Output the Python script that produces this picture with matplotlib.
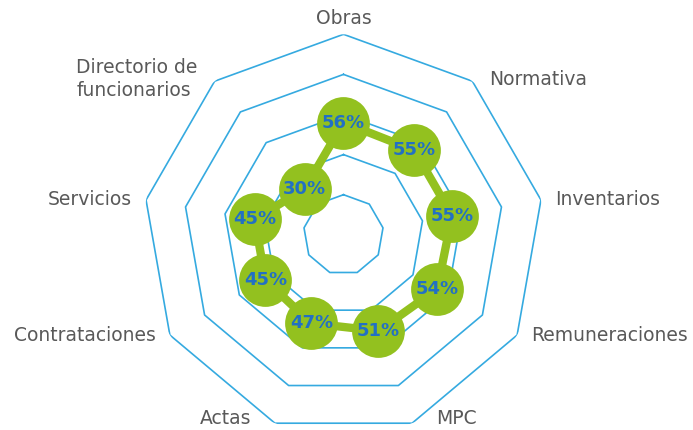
import numpy as np
import matplotlib
matplotlib.use("Agg")
import matplotlib.pyplot as plt

# datos del grafico (sentido horario desde arriba)
categorias = [
    "Obras",
    "Normativa",
    "Inventarios",
    "Remuneraciones",
    "MPC",
    "Actas",
    "Contrataciones",
    "Servicios",
    "Directorio de\nfuncionarios",
]
valores = [56, 55, 55, 54, 51, 47, 45, 45, 30]
anillos = [20, 40, 60, 80, 100]

VERDE = "#93c11f"
AZUL_TXT = "#2270c4"
AZUL_GRID = "#35aae0"
GRIS = "#595959"


def configurar_ejes():
    fig = plt.figure(figsize=(6.93, 4.30), dpi=100)
    # centro del radar en pixeles (343.5, 234.8), radio 200.5
    cx, cy, rad = 343.5, 430 - 234.8, 200.5
    ax = fig.add_axes(
        [(cx - rad) / 693, (cy - rad) / 430, 2 * rad / 693, 2 * rad / 430],
        projection="polar",
    )
    ax.set_theta_offset(np.pi / 2)
    ax.set_theta_direction(-1)
    ax.set_ylim(0, 100)
    ax.grid(False)
    ax.spines["polar"].set_visible(False)
    ax.set_xticks([])
    ax.set_yticks([])
    ax.patch.set_alpha(0)
    return fig, ax


def dibujar_grilla(ax, angulos):
    cerrado = np.append(angulos, angulos[0])
    for r in anillos:
        ax.plot(cerrado, [r] * len(cerrado), color=AZUL_GRID, linewidth=1.2,
                zorder=1)


def dibujar_serie(ax, angulos):
    cerrado = np.append(angulos, angulos[0])
    vals = valores + valores[:1]
    ax.plot(cerrado, vals, color=VERDE, linewidth=6, zorder=2,
            solid_joinstyle="round")
    ax.plot(angulos, valores, "o", color=VERDE, markersize=38,
            markeredgewidth=0, zorder=3)
    for ang, v in zip(angulos, valores):
        ax.text(ang, v, f"{v}%", ha="center", va="center", color=AZUL_TXT,
                fontsize=13, fontweight="bold", zorder=4)


def etiquetar(ax, angulos):
    px = 0.72  # puntos por pixel a 100 dpi
    for ang, nombre in zip(angulos, categorias):
        t = np.pi / 2 - ang
        c, s = np.cos(t), np.sin(t)
        if abs(c) < 0.2:
            ha, dx, dy = "center", 0, 16
        else:
            ha = "left" if c > 0 else "right"
            dx, dy = 14 * np.sign(c), 0
            if s < -0.9:
                dx, dy = 24 * np.sign(c), 5
            elif s > 0.6:
                dx, dy = 17 * np.sign(c), 2
        ax.annotate(nombre, xy=(ang, 100), xytext=(dx * px, dy * px),
                    textcoords="offset points", ha=ha, va="center",
                    multialignment="left", linespacing=1.3,
                    fontsize=13.5, color=GRIS, annotation_clip=False)


fig, ax = configurar_ejes()
angulos = np.linspace(0, 2 * np.pi, len(categorias), endpoint=False)
dibujar_grilla(ax, angulos)
dibujar_serie(ax, angulos)
etiquetar(ax, angulos)
fig.savefig("out.png", dpi=100)
